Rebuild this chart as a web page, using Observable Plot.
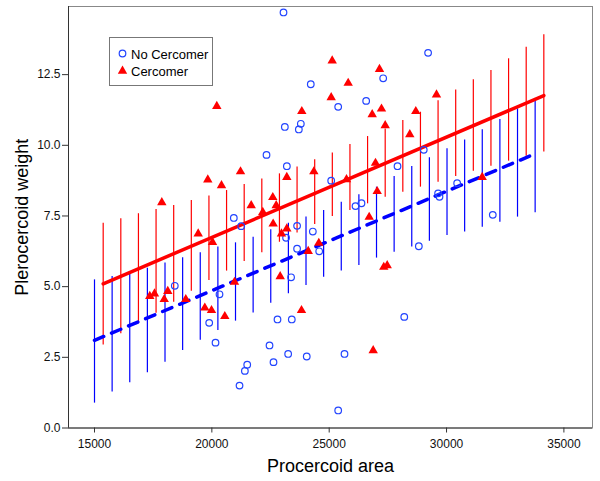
<!DOCTYPE html>
<html><head><meta charset="utf-8">
<script src="https://cdn.jsdelivr.net/npm/d3@7"></script>
<script src="https://cdn.jsdelivr.net/npm/@observablehq/plot@0.6"></script>
<style>
body{margin:0;background:#fff;font-family:"Liberation Sans",Arial,sans-serif}
#wrap{position:relative;width:600px;height:481px}
#wrap svg.plot{display:block}
#legend{position:absolute;left:109px;top:37px}
</style></head><body><div id="wrap"></div>
<script>
// No Cercomer (blue circles)
const noCercX = [23053,24215,27300,26575,25383,23791,23706,23110,22329,23196,27911,25085,26121,26376,29214,29029,29640,29700,30452,31970,18421,20936,21251,20326,19887,20156,21507,21407,21179,23632,23162,24302,23632,24574,23376,22797,23406,22457,23251,22627,24043,25652,25383,28198,28819];
const noCercY = [14.70,12.16,12.37,11.57,11.36,10.76,10.56,10.65,9.66,9.26,9.26,8.75,7.85,7.95,13.27,9.84,8.30,8.18,8.66,7.54,5.03,7.43,7.14,4.73,3.72,3.02,2.24,2.02,1.50,7.15,6.73,6.95,6.34,6.25,5.33,3.84,3.84,2.92,2.62,2.33,2.53,2.62,0.62,3.93,6.43];
// Cercomer (red triangles)
const cercX = [20211,19827,20411,21221,17868,23833,23194,24346,19418,20028,17356,17556,18123,17970,18889,19700,19985,20552,20965,21677,22171,22597,22742,22612,22967,23194,24106,22912,23820,24557,25128,27143,25809,25085,26832,27228,27386,29572,28434,28690,26973,25737,27045,26704,31519,27326,27471,26874];
const cercY = [11.38,8.78,8.58,9.07,7.98,11.20,8.87,9.07,6.87,6.57,4.66,4.75,4.84,4.55,4.55,4.25,4.16,3.95,5.16,7.87,7.63,8.16,7.87,7.22,6.87,7.05,6.25,5.36,4.16,6.54,12.99,12.69,12.20,11.69,11.09,11.29,10.70,11.79,10.38,11.20,9.37,8.79,8.37,7.46,8.87,5.69,5.75,2.74];
// interval bars, No Cercomer
const blueBarX = [15000,15751,16502,17253,18004,18755,19506,20257,21008,21759,22510,23261,24012,24763,25514,26265,27016,27767,28518,29269,30020,30771,31522,32273,33024,33775];
const blueBarLo = [0.88,1.27,1.60,1.95,2.33,2.74,3.10,3.45,3.78,4.07,4.41,4.75,5.04,5.33,5.55,5.75,6.01,6.22,6.40,6.61,6.81,6.93,7.10,7.28,7.46,7.61];
const blueBarHi = [5.24,5.36,5.48,5.65,5.84,6.02,6.20,6.40,6.55,6.75,7.01,7.24,7.46,7.69,7.99,8.25,8.52,8.90,9.25,9.56,9.88,10.19,10.55,10.91,11.29,11.61];
// interval bars, Cercomer
const redBarX = [15370,16121,16872,17623,18374,19125,19876,20627,21378,22129,22880,23631,24382,25133,25884,26635,27386,28137,28888,29639,30390,31141,31892,32643,33394,34145];
const redBarLo = [2.94,3.33,3.69,4.06,4.45,4.84,5.22,5.55,5.89,6.20,6.57,6.90,7.20,7.48,7.69,7.93,8.16,8.34,8.52,8.69,8.90,9.08,9.26,9.44,9.61,9.76];
const redBarHi = [7.24,7.40,7.58,7.73,7.87,8.05,8.21,8.40,8.61,8.81,8.99,9.23,9.49,9.73,10.03,10.31,10.58,10.88,11.17,11.58,11.96,12.32,12.65,13.06,13.47,13.91];
// fitted lines (end points)
const blueFitX = [15000,33775];
const blueFitY = [3.10,9.70];
const redFitX = [15370,34145];
const redFitY = [5.10,11.76];
// axes
const xTicks = [15000,20000,25000,30000,35000];
const yTicks = [0,2.5,5,7.5,10,12.5];
const xMin = 13892, xMax = 36219, yMax = 14.91;

const pts = (xs, ys) => xs.map((x, i) => ({x, y: ys[i]}));
const bars = (xs, lo, hi) => xs.map((x, i) => ({x, lo: lo[i], hi: hi[i]}));

const RED = "#ff0000", BLUE = "#0000ff", CIRC = "#2244ff";

const chart = Plot.plot({
  width: 600, height: 481,
  marginLeft: 68, marginRight: 8, marginTop: 6, marginBottom: 53.5,
  x: {domain: [xMin, xMax]},
  y: {domain: [0, yMax]},
  style: {fontFamily: "'Liberation Sans', Arial, sans-serif", fontSize: "12px", color: "#111", background: "#fff"},
  marks: [
    Plot.frame({stroke: "#888"}),
    Plot.ruleX(bars(blueBarX, blueBarLo, blueBarHi), {x: "x", y1: "lo", y2: "hi", stroke: BLUE, strokeWidth: 1.2}),
    Plot.ruleX(bars(redBarX, redBarLo, redBarHi), {x: "x", y1: "lo", y2: "hi", stroke: RED, strokeWidth: 1.2}),
    Plot.line(pts(blueFitX, blueFitY), {x: "x", y: "y", stroke: BLUE, strokeWidth: 3.5, strokeDasharray: "10,8.5"}),
    Plot.line(pts(redFitX, redFitY), {x: "x", y: "y", stroke: RED, strokeWidth: 3.5}),
    Plot.dot(pts(noCercX, noCercY), {x: "x", y: "y", r: 3.3, stroke: CIRC, strokeWidth: 1.2, fill: "none"}),
    Plot.dot(pts(cercX, cercY), {x: "x", y: "y", r: 3.5, symbol: "triangle", fill: RED, stroke: "none"}),
    Plot.ruleY([0], {stroke: "#333"}),
    Plot.ruleX([xMin], {stroke: "#333"}),
    Plot.axisX({ticks: xTicks, tickFormat: d => String(d), tickSize: 5, tickPadding: 6, label: null, fontSize: 12, stroke: "#333"}),
    Plot.axisY({ticks: yTicks, tickFormat: d => d.toFixed(1), tickSize: 6, tickPadding: 2, label: null, fontSize: 12, stroke: "#333"}),
    Plot.text(["Procercoid area"], {frameAnchor: "bottom", dy: 38.5, lineAnchor: "middle", textAnchor: "middle", fontSize: 18, fill: "#000"}),
    Plot.text(["Plerocercoid weight"], {frameAnchor: "left", dx: -46, rotate: -90, textAnchor: "middle", lineAnchor: "middle", fontSize: 18, fill: "#000"})
  ]
});
chart.classList.add("plot");
document.getElementById("wrap").appendChild(chart);

// legend
const legendItems = ["No Cercomer", "Cercomer"];
const lg = d3.select("#wrap").append("svg").attr("id", "legend").attr("width", 104).attr("height", 49);
lg.append("rect").attr("x", 0.5).attr("y", 0.5).attr("width", 103).attr("height", 48).attr("fill", "#fff").attr("stroke", "#777");
lg.append("circle").attr("cx", 13.5).attr("cy", 16.5).attr("r", 3.3).attr("fill", "none").attr("stroke", CIRC).attr("stroke-width", 1.2);
lg.append("path").attr("d", d3.symbol(d3.symbolTriangle, Math.PI * 3.5 * 3.5)()).attr("transform", "translate(13.5,34)").attr("fill", RED);
legendItems.forEach((t, i) => {
  lg.append("text").attr("x", 22).attr("y", 21.5 + i * 17.5).attr("font-size", 13).attr("fill", "#000")
    .attr("font-family", "'Liberation Sans', Arial, sans-serif").text(t);
});
</script>
</body></html>
